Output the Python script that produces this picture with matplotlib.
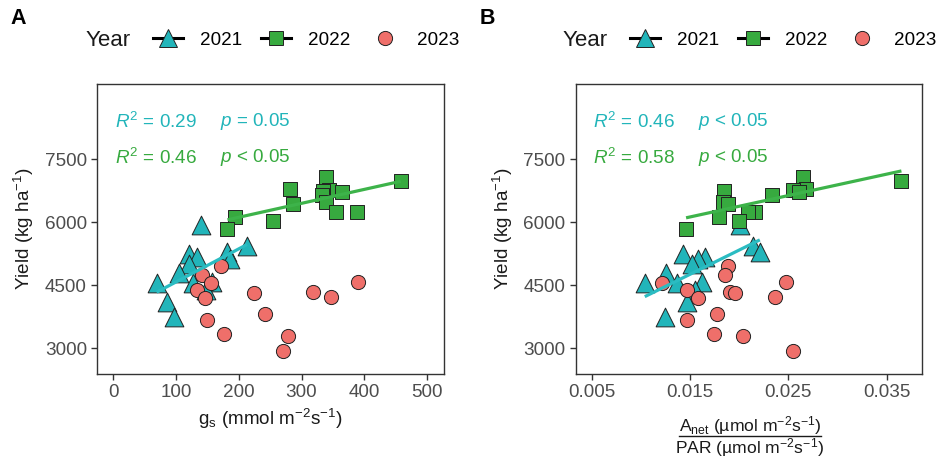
import numpy as np
import matplotlib
matplotlib.use("Agg")
import matplotlib.pyplot as plt
from matplotlib.lines import Line2D

plt.rcParams["font.family"] = ["Liberation Sans", "DejaVu Sans"]
plt.rcParams["mathtext.fontset"] = "custom"
plt.rcParams["mathtext.rm"] = "Liberation Sans"
plt.rcParams["mathtext.it"] = "Liberation Sans:italic"
plt.rcParams["mathtext.bf"] = "Liberation Sans:bold"

# ---- data ----
years = ["2021", "2022", "2023"]

yield_2021 = [5930, 5440, 5295, 5250, 5175, 5120, 5010, 4790, 4580, 4565, 4550, 4380, 4110, 3735]
gs_2021 = [139, 213, 182, 121, 133, 186, 121, 105, 158, 127, 69, 148, 85, 97]
ratio_2021 = [0.0201, 0.0214, 0.0221, 0.0143, 0.0165, 0.0158, 0.0152, 0.0126, 0.0162, 0.0104,
              0.0137, 0.0155, 0.0147, 0.0125]

yield_2022 = [7070, 6975, 6788, 6768, 6750, 6720, 6655, 6490, 6435, 6252, 6245, 6126, 6035, 5830]
gs_2022 = [339, 458, 281, 343, 335, 364, 332, 339, 287, 355, 388, 194, 254, 182]
ratio_2022 = [0.0265, 0.0365, 0.0268, 0.0255, 0.0185, 0.0261, 0.0233, 0.0184, 0.0189, 0.0216,
              0.0209, 0.0179, 0.0200, 0.0146]

yield_2023 = [4950, 4748, 4570, 4562, 4384, 4336, 4320, 4218, 4198, 3817, 3671, 3334, 3290, 2927]
gs_2023 = [171, 141, 390, 155, 134, 319, 225, 347, 146, 241, 150, 177, 278, 270]
ratio_2023 = [0.0189, 0.0186, 0.0248, 0.0122, 0.0147, 0.0191, 0.0196, 0.0236, 0.0158, 0.0177,
              0.0147, 0.0174, 0.0204, 0.0255]

stats_a = [("0.29", "="), ("0.46", "<")]
stats_b = [("0.46", "<"), ("0.58", "<")]

# ---- styles ----
cyan = "#22B5BA"
green = "#37AA3F"
red = "#EF6F6A"
cyan_line = "#2BBCC2"
green_line = "#3DB34A"
tick_grey = "#4D4D4D"
fs = 13.6

fig = plt.figure(figsize=(9.4, 4.62), dpi=100)
ax_a = fig.add_axes([0.1035, 0.1905, 0.3688, 0.6277])
ax_b = fig.add_axes([0.6124, 0.1905, 0.3681, 0.6277])


def panel(ax, xs, stats, xlim, xticks, xticklabels):
    x21, x22, x23 = xs
    # triangles first, circles and squares over them
    ax.scatter(x21, yield_2021, marker="^", s=13.5**2, c=cyan, edgecolors="#222222",
               linewidths=0.7, zorder=2)
    ax.scatter(x23, yield_2023, marker="o", s=10.2**2, c=red, edgecolors="#222222",
               linewidths=0.7, zorder=3)
    ax.scatter(x22, yield_2022, marker="s", s=9.8**2, c=green, edgecolors="#222222",
               linewidths=0.7, zorder=3)
    for xv, yv, col in [(x21, yield_2021, cyan_line), (x22, yield_2022, green_line)]:
        xv = np.asarray(xv, float)
        k, b = np.polyfit(xv, yv, 1)
        xx = np.array([xv.min(), xv.max()])
        ax.plot(xx, k * xx + b, color=col, lw=2.3, zorder=4, solid_capstyle="butt")
    ax.set_xlim(*xlim)
    ax.set_ylim(2390, 9290)
    ax.set_xticks(xticks)
    ax.set_xticklabels(xticklabels)
    ax.set_yticks([3000, 4500, 6000, 7500])
    ax.tick_params(direction="out", length=4.5, width=1.0, color="#333333",
                   labelsize=fs, labelcolor=tick_grey, pad=3)
    for sp in ax.spines.values():
        sp.set_color("#333333")
        sp.set_linewidth(1.0)
    for (r2, op), yy, col in zip(stats, [0.869, 0.745], [cyan, green]):
        ax.text(0.05, yy, r"$R^2$ = " + r2, transform=ax.transAxes, color=col,
                fontsize=fs, va="center", ha="left")
        ax.text(0.354, yy, r"$p$ " + op + " 0.05", transform=ax.transAxes, color=col,
                fontsize=fs, va="center", ha="left")
    ax.set_ylabel(r"Yield (kg ha$^{-1}$)", fontsize=fs, color="#1a1a1a", labelpad=6)


panel(ax_a, (gs_2021, gs_2022, gs_2023), stats_a, (-25.5, 527),
      [0, 100, 200, 300, 400, 500], ["0", "100", "200", "300", "400", "500"])
ax_a.set_xlabel(r"g$_\mathrm{s}$ (mmol m$^{-2}$s$^{-1}$)", fontsize=fs, color="#1a1a1a",
                labelpad=4)

panel(ax_b, (ratio_2021, ratio_2022, ratio_2023), stats_b, (0.00337, 0.03856),
      [0.005, 0.015, 0.025, 0.035], ["0.005", "0.015", "0.025", "0.035"])

# fraction-style x label for panel B
frac_fs = 12.6
fig.text(750 / 940, 1 - 431 / 462, r"A$_\mathrm{net}$ (µmol m$^{-2}$s$^{-1}$)",
         fontsize=frac_fs, color="#1a1a1a", ha="center", va="baseline")
fig.text(750 / 940, 1 - 453 / 462, r"PAR (µmol m$^{-2}$s$^{-1}$)",
         fontsize=frac_fs, color="#1a1a1a", ha="center", va="baseline")
fig.add_artist(Line2D([679 / 940, 821 / 940], [1 - 436 / 462, 1 - 436 / 462],
                      transform=fig.transFigure, color="#1a1a1a", lw=1.0))

# legends
handles = [
    Line2D([], [], color="black", lw=2.2, marker="^", markersize=13.5, markerfacecolor=cyan,
           markeredgecolor="#222222", markeredgewidth=0.7),
    Line2D([], [], color="black", lw=2.2, marker="s", markersize=9.8, markerfacecolor=green,
           markeredgecolor="#222222", markeredgewidth=0.7),
    Line2D([], [], linestyle="none", marker="o", markersize=10.2, markerfacecolor=red,
           markeredgecolor="#222222", markeredgewidth=0.7),
]
for ax, year_x, leg_x in [(ax_a, 86, 153), (ax_b, 563, 630)]:
    fig.text(year_x / 940, 1 - 41 / 462, "Year", fontsize=16, color="#1a1a1a",
             ha="left", va="center")
    ax.legend(handles, years, loc="center left", bbox_to_anchor=(leg_x / 940, 1 - 40 / 462),
              bbox_transform=fig.transFigure, ncol=3, frameon=False, fontsize=fs,
              handlelength=1.6, handletextpad=0.9, columnspacing=1.0, borderpad=0,
              borderaxespad=0)

fig.text(10 / 940, 1 - 18 / 462, "A", fontsize=15.5, fontweight="bold", va="center", ha="left")
fig.text(480 / 940, 1 - 18 / 462, "B", fontsize=15.5, fontweight="bold", va="center", ha="left")

fig.savefig("out.png", dpi=100)
